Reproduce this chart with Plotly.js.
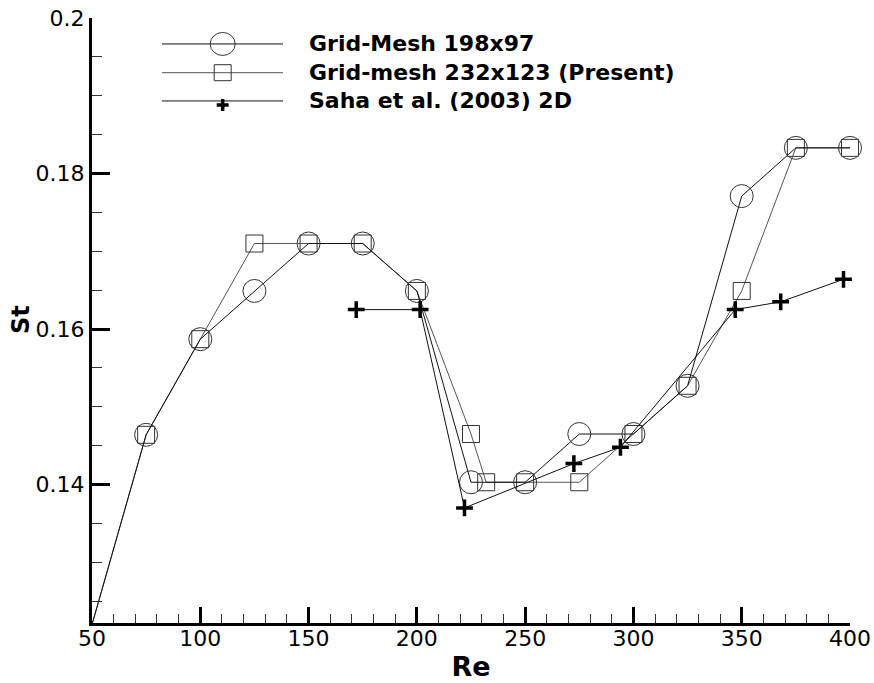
<!DOCTYPE html>
<html>
<head>
<meta charset="utf-8">
<script src="https://cdn.plot.ly/plotly-3.0.1.min.js"></script>
<style>html,body{margin:0;padding:0;background:#fff;}#chart{width:874px;height:683px;}</style>
</head>
<body>
<div id="chart"></div>
<script>
// ---- data ----
const seriesNames = ["Grid-Mesh 198x97", "Grid-mesh 232x123 (Present)", "Saha et al. (2003) 2D"];
const reCoarse = [50, 75, 100, 125, 150, 175, 200, 225, 250, 275, 300, 325, 350, 375, 400];
const stCoarse = [0.1220, 0.1464, 0.1587, 0.1649, 0.1710, 0.1710, 0.1649, 0.1403, 0.1403, 0.1465, 0.1465, 0.1527, 0.1771, 0.1833, 0.1833];
const reFine = [50, 75, 100, 125, 150, 175, 200, 225, 232, 250, 275, 300, 325, 350, 375, 400];
const stFine = [0.1220, 0.1464, 0.1587, 0.1710, 0.1710, 0.1710, 0.1649, 0.1465, 0.1403, 0.1403, 0.1403, 0.1465, 0.1527, 0.1649, 0.1833, 0.1833];
const reSaha = [172, 201.5, 222, 272.5, 294, 347, 368, 397];
const stSaha = [0.1625, 0.1625, 0.1370, 0.1427, 0.1448, 0.1625, 0.1635, 0.1664];
const xTickVals = [50, 100, 150, 200, 250, 300, 350, 400];
const yTickVals = [0.14, 0.16, 0.18, 0.2];
const yTickText = ["0.14", "0.16", "0.18", "0.2"];

const FONT = "DejaVu Sans, Verdana, sans-serif";

const traces = [
  {
    x: reFine, y: stFine, name: seriesNames[1], type: "scatter", mode: "lines+markers",
    cliponaxis: false,
    line: {color: "#555", width: 1},
    marker: {symbol: "square-open", size: 17, color: "#333", line: {color: "#333", width: 1}}
  },
  {
    x: reCoarse, y: stCoarse, name: seriesNames[0], type: "scatter", mode: "lines+markers",
    cliponaxis: false,
    line: {color: "#111", width: 1},
    marker: {symbol: "circle-open", size: 23, color: "#333", line: {color: "#333", width: 1}}
  },
  {
    x: reSaha, y: stSaha, name: seriesNames[2], type: "scatter", mode: "lines+markers",
    cliponaxis: false,
    line: {color: "#111", width: 1},
    marker: {symbol: "cross-thin", size: 12, color: "#000", line: {color: "#000", width: 3.5}}
  }
];

// custom legend (Tecplot style, long sample lines)
const legRowsY = [0.9571, 0.9096, 0.8629];
const legX0 = 0.0923, legX1 = 0.252, legXm = 0.1724, legTextX = 0.2832;
const shapes = [];
const annotations = [];
legRowsY.forEach((yy, i) => {
  shapes.push({type: "line", xref: "paper", yref: "paper", x0: legX0, x1: legX1, y0: yy, y1: yy,
    line: {color: i === 1 ? "#555" : "#111", width: 1}});
  if (i === 0) {
    shapes.push({type: "circle", xref: "paper", yref: "paper", xsizemode: "pixel", ysizemode: "pixel",
      xanchor: legXm, yanchor: yy, x0: -12.5, x1: 12.5, y0: -11.5, y1: 11.5,
      line: {color: "#333", width: 1}, fillcolor: "rgba(0,0,0,0)"});
  } else if (i === 1) {
    shapes.push({type: "rect", xref: "paper", yref: "paper", xsizemode: "pixel", ysizemode: "pixel",
      xanchor: legXm, yanchor: yy, x0: -8.5, x1: 8.5, y0: -8, y1: 8,
      line: {color: "#333", width: 1}, fillcolor: "rgba(0,0,0,0)"});
  } else {
    shapes.push({type: "path", xref: "paper", yref: "paper", xsizemode: "pixel", ysizemode: "pixel",
      xanchor: legXm, yanchor: yy, path: "M-6,-4 L6,-4 M0,-10 L0,2",
      line: {color: "#000", width: 3.5}});
  }
  annotations.push({xref: "paper", yref: "paper", x: legTextX, y: yy, xanchor: "left", yanchor: "middle",
    showarrow: false, text: "<b>" + seriesNames[i] + "</b>",
    font: {family: FONT, size: 22, color: "#000"}});
});
// y-axis title placed like the original (overlapping the tick label column)
annotations.push({xref: "paper", yref: "paper", x: -0.0937, y: 0.5025, xanchor: "center", yanchor: "middle",
  showarrow: false, textangle: -90, text: "<b>St</b>", font: {family: FONT, size: 24, color: "#000"}});

const layout = {
  width: 874, height: 683,
  margin: {l: 92, r: 24, t: 18, b: 60},
  paper_bgcolor: "#fff", plot_bgcolor: "#fff",
  showlegend: false,
  font: {family: FONT, color: "#000"},
  xaxis: {
    range: [50, 400], tickmode: "array", tickvals: xTickVals,
    ticks: "inside", ticklen: 16, tickwidth: 3, tickcolor: "#000",
    showline: true, linewidth: 3, linecolor: "#000", showgrid: false, zeroline: false,
    tickfont: {family: FONT, size: 22, color: "#000"}, ticklabelstandoff: -6,
    minor: {dtick: 10, tick0: 50, ticks: "inside", ticklen: 9, tickwidth: 1, tickcolor: "#333", showgrid: false},
    title: {text: "<b>Re</b>", font: {family: FONT, size: 27, color: "#000"}, standoff: 7}
  },
  yaxis: {
    range: [0.1222, 0.2], tickmode: "array", tickvals: yTickVals, ticktext: yTickText,
    ticks: "inside", ticklen: 18, tickwidth: 3, tickcolor: "#000",
    showline: true, linewidth: 3, linecolor: "#000", showgrid: false, zeroline: false,
    tickfont: {family: FONT, size: 22, color: "#000"},
    minor: {dtick: 0.005, tick0: 0.14, ticks: "inside", ticklen: 10, tickwidth: 1, tickcolor: "#333", showgrid: false}
  },
  shapes: shapes,
  annotations: annotations
};

Plotly.newPlot("chart", traces, layout, {displayModeBar: false, staticPlot: true});
</script>
</body>
</html>
